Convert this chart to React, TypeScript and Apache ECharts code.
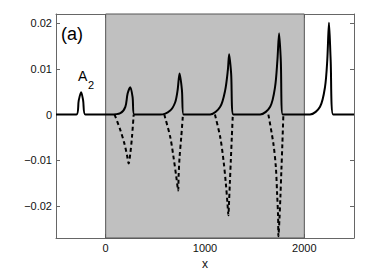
import React, { useEffect, useRef } from "react";
import * as echarts from "echarts";

// x range and ticks
const xMin = -500;
const xMax = 2500;
const yMin = -0.027;
const yMax = 0.022;
const xTicks = [0, 1000, 2000];
const yTicks = [-0.02, -0.01, 0, 0.01, 0.02];
const alRegion = [0, 2000];

// A2 (solid) peaks, [x, value]
const peak1 = [[-294, 0], [-271, 0.0031], [-247, 0.0049], [-227, 0.0031], [-204, 0]];
const peak2 = [[47, 0], [148, 0.0003], [198, 0.0017], [221, 0.0046], [248, 0.006], [271, 0.0038], [288, 0]];
const peak3 = [[550, 0], [650, 0.0009], [700, 0.0027], [724, 0.0053], [744, 0.009], [768, 0.0053], [784, 0]];
const peak4 = [[1052, 0], [1153, 0.0017], [1203, 0.0053], [1230, 0.0097], [1243, 0.0132], [1263, 0.009], [1286, 0]];
const peak5 = [[1555, 0], [1656, 0.0017], [1705, 0.006], [1729, 0.0119], [1746, 0.0178], [1763, 0.0119], [1783, 0]];
const peak6 = [[2057, 0], [2158, 0.0017], [2208, 0.006], [2231, 0.0119], [2248, 0.0201], [2265, 0.0119], [2291, 0]];

// A3/10 (dashed) dips, [x, value]
const dip1 = [[90, 0], [148, -0.0034], [188, -0.0063], [215, -0.0089], [231, -0.0107], [248, -0.0085], [265, -0.0049], [282, 0]];
const dip2 = [[590, 0], [650, -0.0049], [683, -0.0093], [711, -0.0136], [730, -0.0166], [734, -0.0136], [744, -0.0093], [761, -0.0049], [778, 0]];
const dip3 = [[1100, 0], [1153, -0.0049], [1186, -0.01], [1210, -0.0151], [1226, -0.0194], [1236, -0.022], [1240, -0.0202], [1250, -0.0151], [1260, -0.01], [1270, -0.0049], [1280, 0]];
const dip4 = [[1638, 0], [1688, -0.0063], [1713, -0.0114], [1726, -0.0173], [1736, -0.0224], [1739, -0.0266], [1749, -0.0231], [1759, -0.018], [1769, -0.0122], [1779, -0.0063], [1789, 0]];

const solidData = [[xMin, 0], ...peak1, ...peak2, ...peak3, ...peak4, ...peak5, ...peak6, [xMax, 0]];
const dips = [dip1, dip2, dip3, dip4];

const FONT = "Liberation Sans, Arial, Helvetica, sans-serif";
const AXIS_COLOR = "#666";

function fmtY(v: number) {
  if (Math.abs(v) < 1e-9) return "0";
  const s = Math.abs(v).toFixed(2);
  return (v < 0 ? "\u2212" : "") + s;
}

export default function App() {
  const ref = useRef<HTMLDivElement>(null);
  useEffect(() => {
    if (!ref.current) return;
    const chart = echarts.init(ref.current, null, { renderer: "svg" });
    const axisCommon = {
      type: "value" as const,
      axisLine: { show: true, onZero: false, lineStyle: { color: AXIS_COLOR, width: 1 } },
      splitLine: { show: false },
    };
    const option: any = {
      animation: false,
      backgroundColor: "#fff",
      grid: { left: 56, right: 18, top: 14, bottom: 42, containLabel: false },
      xAxis: [
        {
          ...axisCommon,
          min: xMin,
          max: xMax,
          position: "bottom",
          name: "x",
          nameLocation: "middle",
          nameGap: 20,
          nameTextStyle: { fontFamily: FONT, fontSize: 12, color: "#111" },
          axisTick: { show: true, inside: true, length: 4, customValues: xTicks, lineStyle: { color: AXIS_COLOR } },
          axisLabel: { show: true, customValues: xTicks, margin: 4, formatter: (v: number) => String(v), fontFamily: FONT, fontSize: 11, color: "#111" },
        },
        {
          ...axisCommon,
          min: xMin,
          max: xMax,
          position: "top",
          axisTick: { show: true, inside: true, length: 4, customValues: xTicks, lineStyle: { color: AXIS_COLOR } },
          axisLabel: { show: false },
        },
      ],
      yAxis: [
        {
          ...axisCommon,
          min: yMin,
          max: yMax,
          position: "left",
          axisTick: { show: true, inside: true, length: 4, customValues: yTicks, lineStyle: { color: AXIS_COLOR } },
          axisLabel: { show: true, customValues: yTicks, margin: 4, formatter: fmtY, fontFamily: FONT, fontSize: 11, color: "#111" },
        },
        {
          ...axisCommon,
          min: yMin,
          max: yMax,
          position: "right",
          axisTick: { show: true, inside: true, length: 4, customValues: yTicks, lineStyle: { color: AXIS_COLOR } },
          axisLabel: { show: false },
        },
      ],
      series: [
        {
          type: "line",
          data: [],
          silent: true,
          markArea: {
            silent: true,
            itemStyle: { color: "#c0c0c0", borderColor: "#555", borderWidth: 1 },
            data: [[{ xAxis: alRegion[0], yAxis: yMin }, { xAxis: alRegion[1], yAxis: yMax }]],
          },
        },
        ...dips.map((d) => ({
          type: "line",
          data: d,
          showSymbol: false,
          smooth: 0.3,
          lineStyle: { color: "#000", width: 2, type: [4, 3] },
          z: 3,
        })),
        {
          type: "line",
          data: solidData,
          showSymbol: false,
          smooth: 0.3,
          lineStyle: { color: "#000", width: 2 },
          z: 4,
        },
      ],
      graphic: [
        { type: "text", x: 61, y: 25, style: { text: "(a)", fontFamily: FONT, fontSize: 18, fill: "#000", textVerticalAlign: "top" } },
        { type: "text", x: 194, y: 21, style: { text: "AL", fontFamily: FONT, fontSize: 16, fill: "#000", textVerticalAlign: "top" } },
        { type: "text", x: 78, y: 68.5, style: { text: "A", fontFamily: FONT, fontSize: 14, fill: "#000", textVerticalAlign: "top" } },
        { type: "text", x: 88, y: 79, style: { text: "2", fontFamily: FONT, fontSize: 11, fill: "#000", textVerticalAlign: "top" } },
        { type: "text", x: 126, y: 179.5, style: { text: "A", fontFamily: FONT, fontSize: 14, fill: "#000", textVerticalAlign: "top" } },
        { type: "text", x: 135.5, y: 188, style: { text: "3", fontFamily: FONT, fontSize: 11, fill: "#000", textVerticalAlign: "top" } },
        { type: "text", x: 141.5, y: 179.5, style: { text: "/10", fontFamily: FONT, fontSize: 14, fill: "#000", textVerticalAlign: "top" } },
      ],
    };
    chart.setOption(option);
    return () => chart.dispose();
  }, []);
  return (
    <div
      ref={ref}
      style={{ position: "absolute", left: 0, top: 0, width: 372, height: 280, background: "#fff" }}
    />
  );
}
